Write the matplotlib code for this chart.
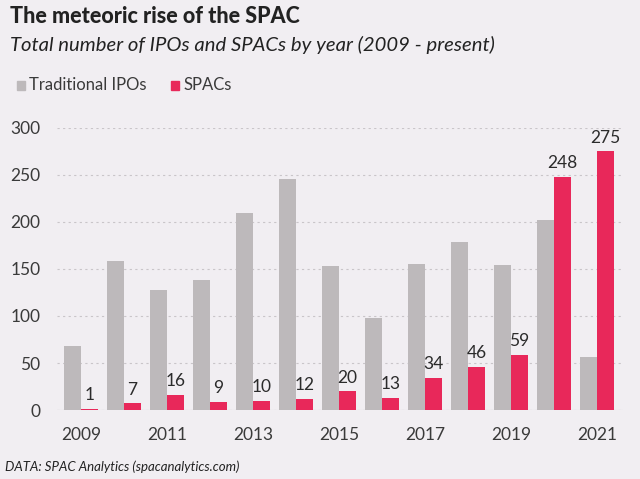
import numpy as np
import matplotlib
matplotlib.use("Agg")
import matplotlib.pyplot as plt

years = list(range(2009, 2022))
ipos = [68, 158, 128, 138, 210, 246, 153, 98, 155, 179, 154, 202, 56]
spacs = [1, 7, 16, 9, 10, 12, 20, 13, 34, 46, 59, 248, 275]
tick_years = [2009, 2011, 2013, 2015, 2017, 2019, 2021]

BG = "#f1eef2"
GREY = "#bdb9bb"
PINK = "#e8285a"
TXT = "#2b2b2b"

plt.rcParams["font.family"] = ["Lato", "DejaVu Sans"]

fig = plt.figure(figsize=(6.4, 4.79), dpi=100, facecolor=BG)
ax = fig.add_axes([0.089, 0.144, 0.884, 0.589], facecolor=BG)

x = np.arange(len(years))
w = 0.4
ax.bar(x - w / 2, ipos, w, color=GREY, zorder=2)
ax.bar(x + w / 2, spacs, w, color=PINK, zorder=2)
for xi, v in zip(x, spacs):
    ax.text(xi + w / 2, v + 6, str(v), ha="center", va="bottom",
            fontsize=12.5, color=TXT, zorder=3)

ax.set_xlim(-0.56, 12.6)
ax.set_ylim(0, 300)
ax.set_yticks(range(0, 301, 50))
ax.set_xticks([years.index(y) for y in tick_years])
ax.set_xticklabels([str(y) for y in tick_years])
ax.tick_params(length=0, labelsize=12.5, colors="#3a3a3a", pad=12)
ax.tick_params(axis="y", pad=12)
ax.grid(axis="y", color="#c9c5c9", ls=(0, (2, 3)), lw=0.8, zorder=0)
for s in ax.spines.values():
    s.set_visible(False)
ax.axhline(0, color="#d4d0d4", lw=0.8, zorder=1)

fig.text(0.016, 0.987, "The meteoric rise of the SPAC", fontsize=15.5,
         fontweight="black", color="#222222", va="top")
fig.text(0.016, 0.925, "Total number of IPOs and SPACs by year (2009 - present)",
         fontsize=14.6, style="italic", color="#222222", va="top")

# legend
fig.patches.append(plt.Rectangle((0.026, 0.813), 0.013, 0.018, color=GREY,
                                 transform=fig.transFigure, figure=fig))
fig.text(0.046, 0.822, "Traditional IPOs", fontsize=12, color="#3a3a3a", va="center")
fig.patches.append(plt.Rectangle((0.267, 0.813), 0.013, 0.018, color=PINK,
                                 transform=fig.transFigure, figure=fig))
fig.text(0.286, 0.822, "SPACs", fontsize=12, color="#3a3a3a", va="center")

fig.text(0.008, 0.013, "DATA: SPAC Analytics (spacanalytics.com)", fontsize=9.5,
         style="italic", color="#222222", va="bottom")

fig.savefig("out.png", dpi=100, facecolor=BG)
